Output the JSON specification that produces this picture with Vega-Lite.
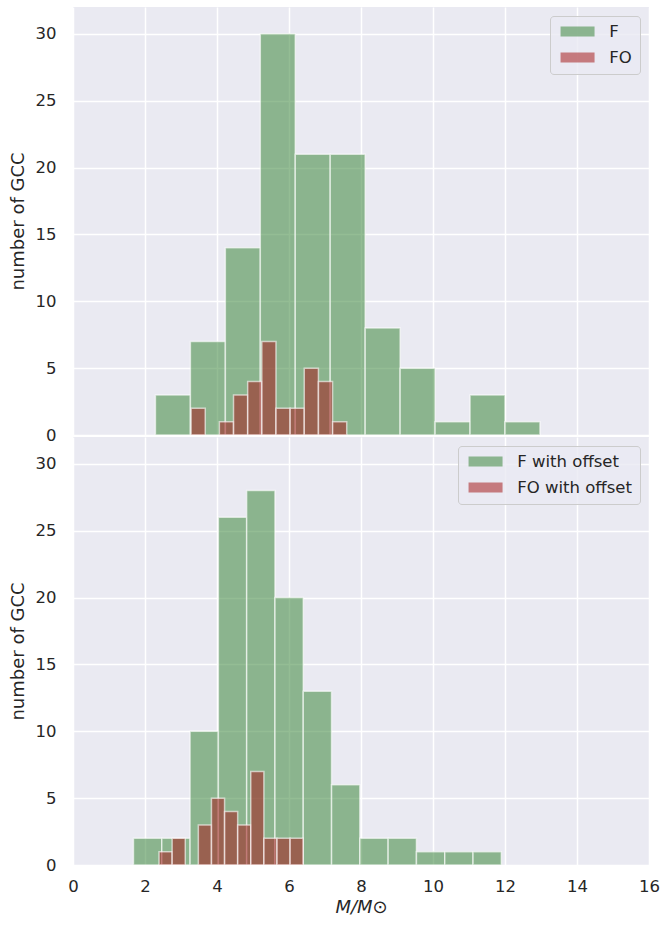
{
  "$schema": "https://vega.github.io/schema/vega-lite/v6.json",
  "padding": {"left": 9, "top": 7, "right": 5, "bottom": 5},
  "background": "white",
  "bounds": "flush",
  "spacing": 2,
  "datasets": {
    "top": [
      {"series": "F", "bin_start": 2.29, "bin_end": 3.261, "count": 3},
      {"series": "F", "bin_start": 3.261, "bin_end": 4.232, "count": 7},
      {"series": "F", "bin_start": 4.232, "bin_end": 5.203, "count": 14},
      {"series": "F", "bin_start": 5.203, "bin_end": 6.174, "count": 30},
      {"series": "F", "bin_start": 6.174, "bin_end": 7.145, "count": 21},
      {"series": "F", "bin_start": 7.145, "bin_end": 8.116, "count": 21},
      {"series": "F", "bin_start": 8.116, "bin_end": 9.087, "count": 8},
      {"series": "F", "bin_start": 9.087, "bin_end": 10.058, "count": 5},
      {"series": "F", "bin_start": 10.058, "bin_end": 11.029, "count": 1},
      {"series": "F", "bin_start": 11.029, "bin_end": 12.0, "count": 3},
      {"series": "F", "bin_start": 12.0, "bin_end": 12.971, "count": 1},
      {"series": "FO", "bin_start": 3.28, "bin_end": 3.673, "count": 2},
      {"series": "FO", "bin_start": 4.066, "bin_end": 4.459, "count": 1},
      {"series": "FO", "bin_start": 4.459, "bin_end": 4.852, "count": 3},
      {"series": "FO", "bin_start": 4.852, "bin_end": 5.245, "count": 4},
      {"series": "FO", "bin_start": 5.245, "bin_end": 5.638, "count": 7},
      {"series": "FO", "bin_start": 5.638, "bin_end": 6.031, "count": 2},
      {"series": "FO", "bin_start": 6.031, "bin_end": 6.424, "count": 2},
      {"series": "FO", "bin_start": 6.424, "bin_end": 6.817, "count": 5},
      {"series": "FO", "bin_start": 6.817, "bin_end": 7.21, "count": 4},
      {"series": "FO", "bin_start": 7.21, "bin_end": 7.603, "count": 1}
    ],
    "bottom": [
      {"series": "F with offset", "bin_start": 1.68, "bin_end": 2.466, "count": 2},
      {"series": "F with offset", "bin_start": 2.466, "bin_end": 3.252, "count": 2},
      {"series": "F with offset", "bin_start": 3.252, "bin_end": 4.038, "count": 10},
      {"series": "F with offset", "bin_start": 4.038, "bin_end": 4.824, "count": 26},
      {"series": "F with offset", "bin_start": 4.824, "bin_end": 5.61, "count": 28},
      {"series": "F with offset", "bin_start": 5.61, "bin_end": 6.396, "count": 20},
      {"series": "F with offset", "bin_start": 6.396, "bin_end": 7.182, "count": 13},
      {"series": "F with offset", "bin_start": 7.182, "bin_end": 7.968, "count": 6},
      {"series": "F with offset", "bin_start": 7.968, "bin_end": 8.754, "count": 2},
      {"series": "F with offset", "bin_start": 8.754, "bin_end": 9.54, "count": 2},
      {"series": "F with offset", "bin_start": 9.54, "bin_end": 10.326, "count": 1},
      {"series": "F with offset", "bin_start": 10.326, "bin_end": 11.112, "count": 1},
      {"series": "F with offset", "bin_start": 11.112, "bin_end": 11.898, "count": 1},
      {"series": "FO with offset", "bin_start": 2.39, "bin_end": 2.754, "count": 1},
      {"series": "FO with offset", "bin_start": 2.754, "bin_end": 3.118, "count": 2},
      {"series": "FO with offset", "bin_start": 3.482, "bin_end": 3.846, "count": 3},
      {"series": "FO with offset", "bin_start": 3.846, "bin_end": 4.21, "count": 5},
      {"series": "FO with offset", "bin_start": 4.21, "bin_end": 4.574, "count": 4},
      {"series": "FO with offset", "bin_start": 4.574, "bin_end": 4.938, "count": 3},
      {"series": "FO with offset", "bin_start": 4.938, "bin_end": 5.302, "count": 7},
      {"series": "FO with offset", "bin_start": 5.302, "bin_end": 5.666, "count": 2},
      {"series": "FO with offset", "bin_start": 5.666, "bin_end": 6.03, "count": 2},
      {"series": "FO with offset", "bin_start": 6.03, "bin_end": 6.394, "count": 2}
    ]
  },
  "config": {
    "view": {"fill": "#eaeaf2", "stroke": null},
    "font": "DejaVu Sans",
    "axis": {
      "grid": true, "gridColor": "white", "gridWidth": 1.5, "gridOpacity": 1,
      "domain": false, "ticks": false, "tickSize": 0, "labelFlush": false,
      "labelFont": "DejaVu Sans", "labelFontSize": 16.5, "labelColor": "#262626",
      "titleFont": "DejaVu Sans", "titleFontSize": 18, "titleFontWeight": "normal", "titleColor": "#262626"
    },
    "legend": {
      "orient": "top-right", "offset": 9,
      "labelFont": "DejaVu Sans", "labelFontSize": 16.5, "labelColor": "#262626",
      "symbolType": "M-3.4,-1H3.4V1H-3.4Z", "symbolSize": 100, "symbolOpacity": 0.55,
      "symbolStrokeWidth": 0, "symbolOffset": 12, "labelOffset": 23.5, "rowPadding": 9,
      "padding": 7.3, "fillColor": "rgba(234,234,242,0.8)", "strokeColor": "#cccccc", "cornerRadius": 3.5
    }
  },
  "vconcat": [
    {
      "width": 576, "height": 428,
      "data": {"name": "top"},
      "mark": {"type": "bar", "fillOpacity": 0.55, "stroke": "white", "strokeWidth": 1.5, "strokeOpacity": 0.6},
      "encoding": {
        "x": {"field": "bin_start", "type": "quantitative", "scale": {"domain": [0, 16], "nice": false, "zero": false},
              "axis": {"labels": false, "title": null, "values": [0, 2, 4, 6, 8, 10, 12, 14, 16]}},
        "x2": {"field": "bin_end"},
        "y": {"field": "count", "type": "quantitative", "stack": null, "scale": {"domain": [0, 32], "nice": false},
              "axis": {"values": [0, 5, 10, 15, 20, 25, 30], "title": "number of GCC", "labelPadding": 17, "titlePadding": 8}},
        "y2": {"datum": 0},
        "color": {"field": "series", "type": "nominal",
                  "scale": {"domain": ["F", "FO"], "range": ["#3c873c", "#a51e1e"]},
                  "legend": {"title": null}}
      }
    },
    {
      "width": 576, "height": 428,
      "data": {"name": "bottom"},
      "mark": {"type": "bar", "fillOpacity": 0.55, "stroke": "white", "strokeWidth": 1.5, "strokeOpacity": 0.6},
      "encoding": {
        "x": {"field": "bin_start", "type": "quantitative", "scale": {"domain": [0, 16], "nice": false, "zero": false},
              "axis": {"title": "M/M⊙", "titleFontStyle": "italic", "values": [0, 2, 4, 6, 8, 10, 12, 14, 16], "labelPadding": 13, "titlePadding": 4}},
        "x2": {"field": "bin_end"},
        "y": {"field": "count", "type": "quantitative", "stack": null, "scale": {"domain": [0, 32], "nice": false},
              "axis": {"values": [0, 5, 10, 15, 20, 25, 30], "title": "number of GCC", "labelPadding": 17, "titlePadding": 8}},
        "y2": {"datum": 0},
        "color": {"field": "series", "type": "nominal",
                  "scale": {"domain": ["F with offset", "FO with offset"], "range": ["#3c873c", "#a51e1e"]},
                  "legend": {"title": null}}
      }
    }
  ],
  "resolve": {"scale": {"color": "independent"}, "legend": {"color": "independent"}}
}
